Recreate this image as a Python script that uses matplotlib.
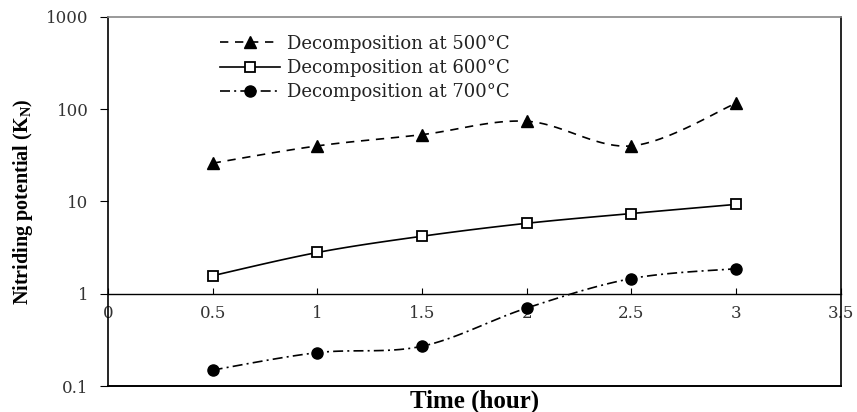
import numpy as np
import matplotlib.pyplot as plt
from matplotlib.lines import Line2D
from matplotlib.ticker import FixedLocator, FixedFormatter, NullLocator

plt.rcParams['mathtext.fontset'] = 'custom'
plt.rcParams['mathtext.rm'] = 'Liberation Serif:bold'
plt.rcParams['mathtext.bf'] = 'Liberation Serif:bold'

# ===== DATOS =====
time_h = [0.5, 1, 1.5, 2, 2.5, 3]
kn_500 = [26, 40, 53, 74, 40, 116]
kn_600 = [1.57, 2.8, 4.2, 5.8, 7.4, 9.3]
kn_700 = [0.149, 0.23, 0.27, 0.70, 1.46, 1.87]

xticks = [0, 0.5, 1, 1.5, 2, 2.5, 3, 3.5]
xtick_labels = ["0", "0.5", "1", "1.5", "2", "2.5", "3", "3.5"]
yticks = [0.1, 1, 10, 100, 1000]
ytick_labels = ["0.1", "1", "10", "100", "1000"]

labels = ["Decomposition at 500°C", "Decomposition at 600°C", "Decomposition at 700°C"]


def smooth_line(ax, x, y, steps=25):
    # curva suavizada tipo Excel (Bezier / Catmull-Rom) en coordenadas de pantalla
    pts = ax.transData.transform(np.column_stack([x, y]))
    p = np.vstack([pts[0], pts, pts[-1]])
    t = np.linspace(0, 1, steps)[:, None]
    out = []
    for i in range(1, len(p) - 2):
        p0, p1, p2, p3 = p[i - 1], p[i], p[i + 1], p[i + 2]
        c1 = p1 + (p2 - p0) / 6
        c2 = p2 - (p3 - p1) / 6
        seg = (1 - t)**3 * p1 + 3 * (1 - t)**2 * t * c1 + 3 * (1 - t) * t**2 * c2 + t**3 * p2
        out.append(seg if i == 1 else seg[1:])
    out = ax.transData.inverted().transform(np.vstack(out))
    return out[:, 0], out[:, 1]


fig = plt.figure(figsize=(8.57, 4.12), dpi=100)
ax = fig.add_axes([0.126, 0.063, 0.855, 0.896])
ax.set_yscale('log')
ax.set_xlim(0, 3.5)
ax.set_ylim(0.1, 1000)

# estilos
st500 = dict(color='k', lw=1.2, dashes=(5, 4))
st600 = dict(color='k', lw=1.2, linestyle='-')
st700 = dict(color='k', lw=1.2, dashes=(6, 2.5, 1.2, 2.5))

sx, sy = smooth_line(ax, time_h, kn_500)
ax.plot(sx, sy, **st500)
sx, sy = smooth_line(ax, time_h, kn_600)
ax.plot(sx, sy, **st600)
sx, sy = smooth_line(ax, time_h, kn_700)
ax.plot(sx, sy, **st700)

ax.plot(time_h, kn_500, ls='none', marker='^', ms=8.5, mfc='k', mec='k')
ax.plot(time_h, kn_600, ls='none', marker='s', ms=7.5, mfc='white', mec='k', mew=1.3)
ax.plot(time_h, kn_700, ls='none', marker='o', ms=8, mfc='k', mec='k')

# ejes
ax.spines['bottom'].set_position(('data', 1))
ax.spines['bottom'].set_linewidth(1.0)
ax.spines['left'].set_linewidth(1.2)
ax.spines['right'].set_linewidth(1.2)
ax.spines['top'].set_color('#888888')
ax.spines['top'].set_linewidth(1.2)
ax.axhline(0.1, color='k', lw=1.4, clip_on=False)

ax.xaxis.set_major_locator(FixedLocator(xticks))
ax.xaxis.set_major_formatter(FixedFormatter(xtick_labels))
ax.yaxis.set_major_locator(FixedLocator(yticks))
ax.yaxis.set_major_formatter(FixedFormatter(ytick_labels))
ax.yaxis.set_minor_locator(NullLocator())
ax.xaxis.set_minor_locator(NullLocator())

ax.tick_params(axis='x', direction='in', length=4, pad=8, labelsize=12, labelfontfamily='DejaVu Serif', labelcolor='#333333')
ax.tick_params(axis='y', direction='out', length=6, pad=8, labelsize=12, labelfontfamily='DejaVu Serif', labelcolor='#333333')

ax.set_xlabel("Time (hour)", fontsize=18, fontweight='bold', family='Liberation Serif')
ax.xaxis.set_label_coords(0.5, -0.01)
ax.set_ylabel(r"Nitriding potential (K$_\mathrm{N}$)", fontsize=14.5, fontweight='bold', family='Liberation Serif')
ax.yaxis.set_label_coords(-0.1, 0.5)

handles = [
    Line2D([], [], marker='^', ms=8.5, mfc='k', mec='k', **st500),
    Line2D([], [], marker='s', ms=7.5, mfc='white', mec='k', mew=1.3, **st600),
    Line2D([], [], marker='o', ms=8, mfc='k', mec='k', **st700),
]
leg = ax.legend(handles, labels, loc='upper left', bbox_to_anchor=(0.153, 0.952),
                frameon=False, borderpad=0, borderaxespad=0, handlelength=3.3,
                handletextpad=0.4, labelspacing=0.35,
                prop={'family': 'DejaVu Serif', 'size': 13})
for txt in leg.get_texts():
    txt.set_color('#222222')

plt.savefig('out.png', dpi=100)
